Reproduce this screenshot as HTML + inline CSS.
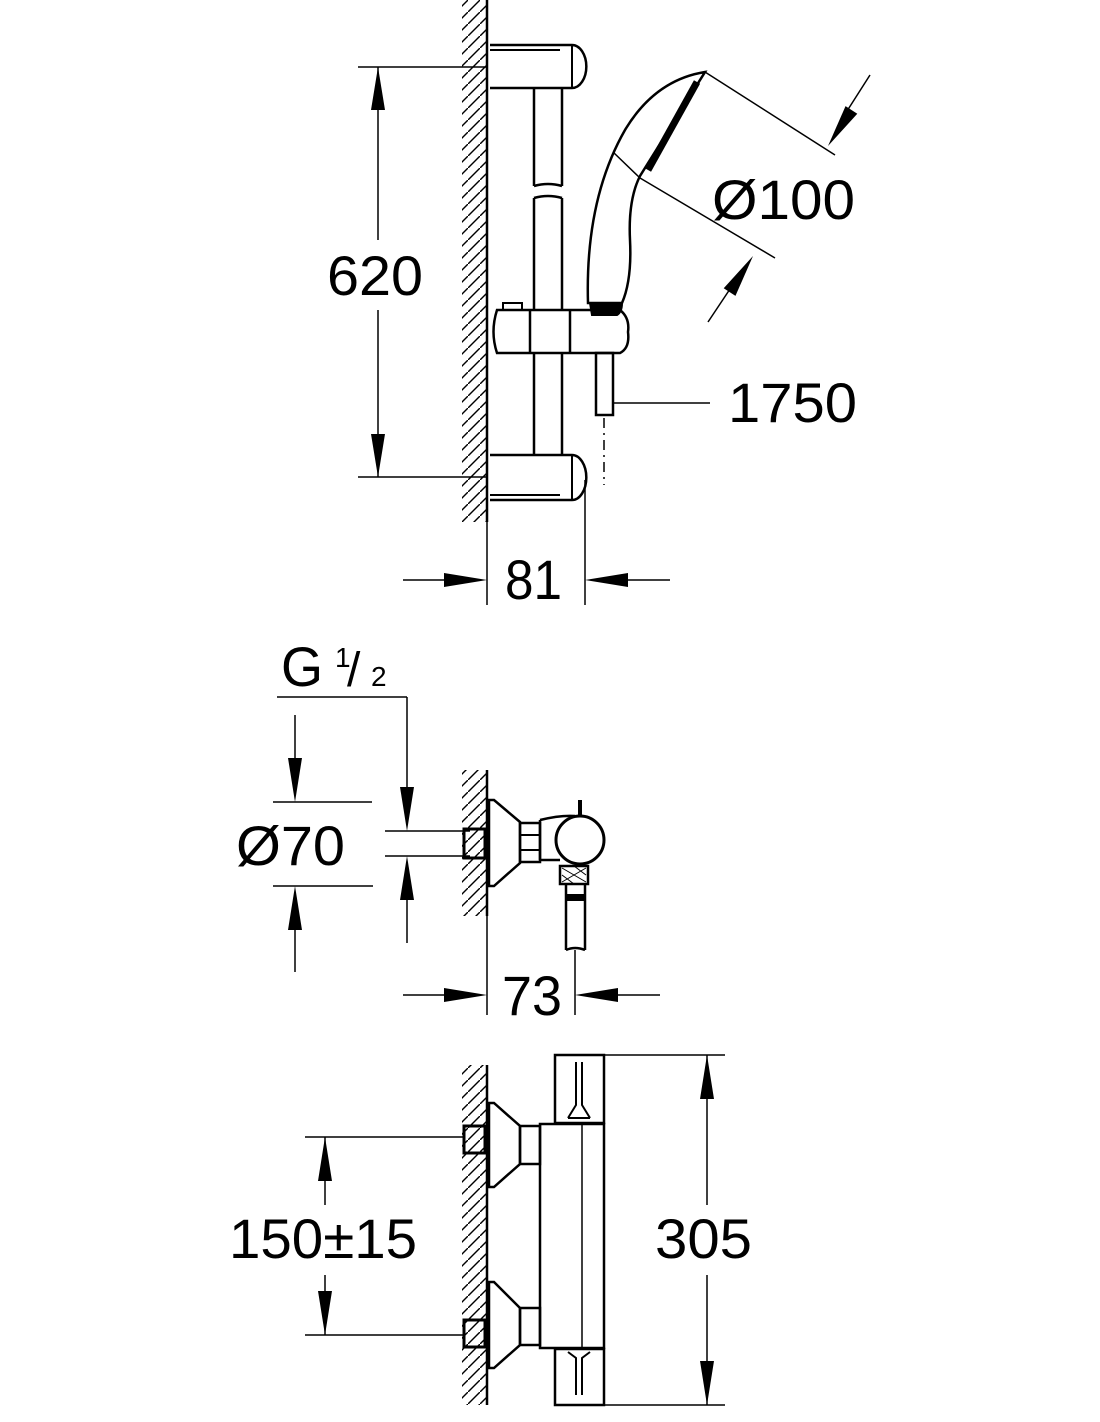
<!DOCTYPE html>
<html><head><meta charset="utf-8"><style>
html,body{margin:0;padding:0;background:#fff;}
svg{display:block;}
text{font-family:"Liberation Sans",sans-serif;fill:#000;}
</style></head><body>
<svg width="1100" height="1422" viewBox="0 0 1100 1422" xmlns="http://www.w3.org/2000/svg">
<defs>
<pattern id="h" width="12" height="12" patternUnits="userSpaceOnUse">
<line x1="-1" y1="13" x2="13" y2="-1" stroke="#000" stroke-width="1.4"/>
</pattern>
</defs>
<g stroke="#000" fill="none" stroke-width="2">
<!-- walls -->
<rect x="462" y="0" width="24" height="522" fill="url(#h)" stroke="none"/>
<line x1="487" y1="0" x2="487" y2="522" stroke-width="2.5"/>
<rect x="462" y="770" width="24" height="146" fill="url(#h)" stroke="none"/>
<line x1="487" y1="770" x2="487" y2="916" stroke-width="2.5"/>
<rect x="462" y="1065" width="24" height="340" fill="url(#h)" stroke="none"/>
<line x1="487" y1="1065" x2="487" y2="1405" stroke-width="2.5"/>

<!-- top section rail -->
<path d="M490 45 H572 A14 21 0 0 1 572 88 H490" stroke-width="2.5"/>
<line x1="490" y1="50" x2="560" y2="50" />
<line x1="572" y1="45" x2="572" y2="88"/>
<path d="M490 455 H572 A14 22 0 0 1 572 500 H490" stroke-width="2.5"/>
<line x1="572" y1="455" x2="572" y2="500"/>
<line x1="490" y1="495" x2="560" y2="495"/>
<path d="M534 88 V186 M562 88 V186 M534 186 Q548 182 562 186" stroke-width="2.5"/>
<path d="M534 198 Q548 194 562 198 M534 198 V310 M562 198 V310" stroke-width="2.5"/>
<path d="M534 353 V455 M562 353 V455" stroke-width="2.5"/>
<path d="M497 310 H620 Q630 318 628 332 Q630 348 620 353 H497 Q490 332 497 310 Z" stroke-width="2.5"/>
<line x1="530" y1="310" x2="530" y2="353" stroke-width="2.5"/>
<line x1="570" y1="310" x2="570" y2="353" stroke-width="2.5"/>
<rect x="503" y="303" width="19" height="7" stroke-width="2"/>
<!-- shower -->
<path d="M588 303 Q585 200 625 130 Q655 80 705 72 L640 176 Q628 200 630 240 Q632 280 622 303 Z" stroke-width="2.5"/>
<line x1="697" y1="82" x2="648" y2="170" stroke-width="7"/>
<path d="M613 152 L640 178" stroke-width="1.5"/>
<path d="M590 303 H622 Q622 312 617 315 H592 Z" fill="#000"/>
<!-- hose -->
<rect x="596" y="353" width="17" height="62" stroke-width="2.5"/>
<line x1="604" y1="418" x2="604" y2="485" stroke-dasharray="10 5 2 5" stroke-width="1.5"/>
<line x1="613" y1="403" x2="710" y2="403" stroke-width="1.5"/>

<!-- 620 dim -->
<line x1="358" y1="67" x2="487" y2="67" stroke-width="1.5"/>
<line x1="358" y1="477" x2="487" y2="477" stroke-width="1.5"/>
<line x1="378" y1="67" x2="378" y2="240" stroke-width="1.5"/>
<line x1="378" y1="310" x2="378" y2="477" stroke-width="1.5"/>
<!-- Ø100 -->
<line x1="705" y1="72" x2="835" y2="155" stroke-width="1.5"/>
<line x1="640" y1="178" x2="775" y2="258" stroke-width="1.5"/>
<line x1="870" y1="75" x2="840" y2="122" stroke-width="1.5"/>
<line x1="708" y1="322" x2="736" y2="280" stroke-width="1.5"/>
<!-- 81 -->
<line x1="585" y1="480" x2="585" y2="605" stroke-width="1.5"/>
<line x1="487" y1="522" x2="487" y2="605" stroke-width="1.5"/>
<line x1="403" y1="580" x2="460" y2="580" stroke-width="1.5"/>
<line x1="612" y1="580" x2="670" y2="580" stroke-width="1.5"/>

<!-- middle section -->
<line x1="277" y1="697" x2="407" y2="697" stroke-width="1.5"/>
<line x1="407" y1="697" x2="407" y2="800" stroke-width="1.5"/>
<line x1="295" y1="715" x2="295" y2="770" stroke-width="1.5"/>
<line x1="273" y1="802" x2="372" y2="802" stroke-width="1.5"/>
<line x1="273" y1="886" x2="373" y2="886" stroke-width="1.5"/>
<line x1="295" y1="918" x2="295" y2="972" stroke-width="1.5"/>
<line x1="385" y1="831" x2="470" y2="831" stroke-width="1.5"/>
<line x1="385" y1="856" x2="470" y2="856" stroke-width="1.5"/>
<line x1="407" y1="888" x2="407" y2="943" stroke-width="1.5"/>
<rect x="464" y="829" width="21" height="29" stroke-width="3"/>
<path d="M489 800 H494 L520 822 V863 L494 886 H489 Z" stroke-width="2.5"/>
<rect x="520" y="823" width="20" height="39" stroke-width="2.5"/>
<line x1="520" y1="835" x2="540" y2="835"/><line x1="520" y1="850" x2="540" y2="850"/>
<path d="M540 820 Q560 815 575 816 M540 860 H560" stroke-width="2.5"/>
<line x1="540" y1="820" x2="540" y2="860" stroke-width="2.5"/>
<circle cx="580" cy="840" r="24" stroke-width="3"/>
<line x1="580" y1="800" x2="580" y2="816" stroke-width="4"/>
<rect x="560" y="866" width="28" height="18" stroke-width="2.5"/>
<path d="M562 868 L586 882 M586 868 L562 882 M574 866 L586 875 M574 884 L562 875" stroke-width="1"/>
<path d="M566 884 V950 M585 884 V950 M566 950 Q575 946 585 950" stroke-width="2.5"/>
<rect x="566" y="895" width="19" height="5" fill="#000"/>
<!-- 73 -->
<line x1="575" y1="950" x2="575" y2="1015" stroke-width="1.5"/>
<line x1="487" y1="916" x2="487" y2="1015" stroke-width="1.5"/>
<line x1="403" y1="995" x2="460" y2="995" stroke-width="1.5"/>
<line x1="603" y1="995" x2="660" y2="995" stroke-width="1.5"/>

<!-- bottom section -->
<rect x="555" y="1055" width="49" height="68" stroke-width="2.5"/>
<rect x="555" y="1349" width="49" height="56" stroke-width="2.5"/>
<rect x="540" y="1124" width="64" height="224" stroke-width="2.5"/>
<line x1="582" y1="1124" x2="582" y2="1348" stroke-width="1.5"/>
<path d="M576 1062 V1105 L568 1118 M582 1062 V1105 L590 1118 M568 1118 H590" stroke-width="2"/>
<path d="M576 1395 V1358 L568 1352 M582 1395 V1358 L590 1352" stroke-width="2"/>
<path d="M489 1103 H494 L520 1126 V1164 L494 1187 H489 Z" stroke-width="2.5"/>
<rect x="520" y="1126" width="20" height="38" stroke-width="2.5"/>
<rect x="464" y="1126" width="21" height="27" stroke-width="3"/>
<path d="M489 1282 H494 L520 1308 V1345 L494 1368 H489 Z" stroke-width="2.5"/>
<rect x="520" y="1308" width="20" height="37" stroke-width="2.5"/>
<rect x="464" y="1320" width="21" height="27" stroke-width="3"/>
<line x1="305" y1="1137" x2="464" y2="1137" stroke-width="1.5"/>
<line x1="305" y1="1335" x2="464" y2="1335" stroke-width="1.5"/>
<line x1="325" y1="1137" x2="325" y2="1205" stroke-width="1.5"/>
<line x1="325" y1="1275" x2="325" y2="1335" stroke-width="1.5"/>
<line x1="604" y1="1055" x2="725" y2="1055" stroke-width="1.5"/>
<line x1="604" y1="1405" x2="725" y2="1405" stroke-width="1.5"/>
<line x1="707" y1="1055" x2="707" y2="1205" stroke-width="1.5"/>
<line x1="707" y1="1275" x2="707" y2="1405" stroke-width="1.5"/>
</g>
<g fill="#000">
<path d="M378 67 L371 110 L385 110 Z"/>
<path d="M378 477 L371 434 L385 434 Z"/>
<path d="M487 580 L444 573 L444 587 Z"/>
<path d="M585 580 L628 573 L628 587 Z"/>
<path d="M0 0 L-7 -43 L7 -43 Z" transform="translate(828,146) rotate(33)"/>
<path d="M0 0 L-7 -43 L7 -43 Z" transform="translate(753,256) rotate(213)"/>
<path d="M295 802 L288 758 L302 758 Z"/>
<path d="M295 886 L288 930 L302 930 Z"/>
<path d="M407 831 L400 787 L414 787 Z"/>
<path d="M407 856 L400 900 L414 900 Z"/>
<path d="M487 995 L444 988 L444 1002 Z"/>
<path d="M575 995 L618 988 L618 1002 Z"/>
<path d="M325 1137 L318 1181 L332 1181 Z"/>
<path d="M325 1335 L318 1291 L332 1291 Z"/>
<path d="M707 1055 L700 1099 L714 1099 Z"/>
<path d="M707 1405 L700 1361 L714 1361 Z"/>
</g>
<g font-size="56">
<text x="327" y="295" textLength="96" lengthAdjust="spacingAndGlyphs">620</text>
<text x="712" y="219" textLength="143" lengthAdjust="spacingAndGlyphs">Ø100</text>
<text x="728" y="422" textLength="129" lengthAdjust="spacingAndGlyphs">1750</text>
<text x="505" y="599" textLength="57" lengthAdjust="spacingAndGlyphs">81</text>
<text x="281" y="686" textLength="42" lengthAdjust="spacingAndGlyphs">G</text>
<text x="335" y="667" font-size="28">1</text>
<text x="347" y="686" font-size="48">/</text>
<text x="371" y="686" font-size="28">2</text>
<text x="236" y="865" textLength="109" lengthAdjust="spacingAndGlyphs">Ø70</text>
<text x="502" y="1015" textLength="60" lengthAdjust="spacingAndGlyphs">73</text>
<text x="229" y="1258" textLength="188" lengthAdjust="spacingAndGlyphs">150±15</text>
<text x="655" y="1258" textLength="97" lengthAdjust="spacingAndGlyphs">305</text>
</g>
</svg>
</body></html>
